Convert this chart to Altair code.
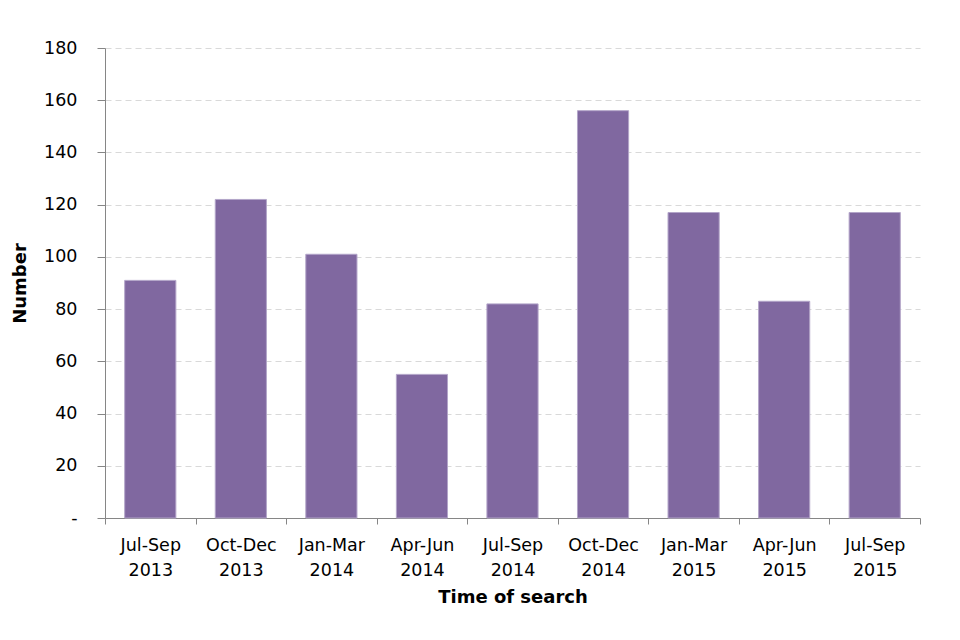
import altair as alt
import pandas as pd

periods = ["Jul-Sep 2013", "Oct-Dec 2013", "Jan-Mar 2014", "Apr-Jun 2014", "Jul-Sep 2014",
           "Oct-Dec 2014", "Jan-Mar 2015", "Apr-Jun 2015", "Jul-Sep 2015"]
numbers = [91, 122, 101, 55, 82, 156, 117, 83, 117]
y_ticks = [0, 20, 40, 60, 80, 100, 120, 140, 160, 180]

df = pd.DataFrame({"period": periods, "number": numbers})

font = "DejaVu Sans"

chart = alt.Chart(df).mark_bar(color="#8068a0", stroke="#b3a5c9", strokeWidth=1,
                               width=alt.RelativeBandSize(0.565)).encode(
    x=alt.X("period:N", sort=periods,
            scale=alt.Scale(paddingInner=0, paddingOuter=0),
            axis=alt.Axis(title="Time of search", labelAngle=0,
                          labelExpr="split(datum.label, ' ')",
                          tickBand="extent", tickSize=6, tickColor="#868686",
                          domainColor="#868686", labelPadding=12,
                          labelFontSize=17.5, labelLineHeight=25,
                          titleFontSize=18, titleFontWeight="bold", titlePadding=10,
                          labelColor="black", titleColor="black",
                          labelFont=font, titleFont=font)),
    y=alt.Y("number:Q",
            scale=alt.Scale(domain=[0, 180], nice=False),
            axis=alt.Axis(title="Number", values=y_ticks,
                          labelExpr="datum.value == 0 ? '-' : datum.label",
                          grid=True, gridDash=[6, 4], gridColor="#d9d9d9",
                          tickSize=8, tickColor="#868686", domainColor="#868686",
                          labelPadding=20, labelFontSize=17.5, labelColor="black",
                          titleFontSize=18, titleFontWeight="bold", titleColor="black",
                          titlePadding=14, labelFont=font, titleFont=font))
).properties(
    width=815, height=470,
    padding={"left": 97, "top": 40, "right": 30, "bottom": 100},
    autosize=alt.AutoSizeParams(type="none")
).configure_view(stroke=None)

chart.save("out.html", embed_options={"renderer": "svg", "actions": False})
